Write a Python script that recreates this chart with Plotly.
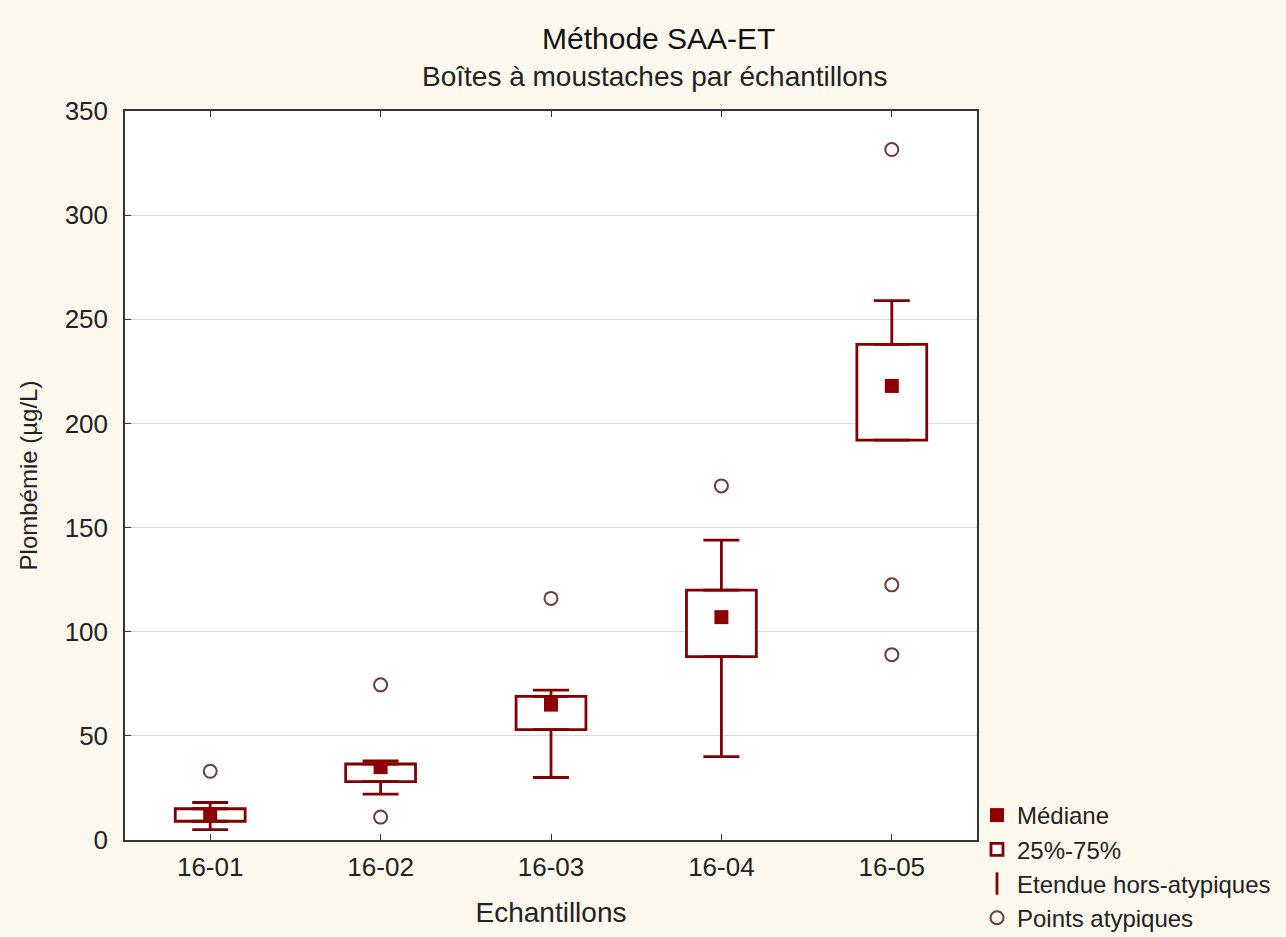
import plotly.graph_objects as go

# ---- data ----
categories = ["16-01", "16-02", "16-03", "16-04", "16-05"]
median = [12, 35, 65, 107, 218]
q1 = [9, 28, 53, 88, 192]
q3 = [15, 36.5, 69, 120, 238]
whisker_low = [5, 22, 30, 40, 192]
whisker_high = [18, 38, 72, 144, 259]

outlier_cat = ["16-01", "16-02", "16-02", "16-03", "16-04", "16-05", "16-05", "16-05"]
outlier_val = [33, 74.5, 11, 116, 170, 331.5, 122.5, 89]

y_ticks = [0, 50, 100, 150, 200, 250, 300, 350]

# ---- styles ----
DARK_RED = "#800000"
MED_RED = "#8B0000"
OUT_COL = "#6e3a3a"
BG = "#FDF8EE"
FONT = "Liberation Sans, Arial, sans-serif"

fig = go.Figure()

# boxes (25%-75%)
fig.add_trace(go.Bar(
    x=categories,
    y=[b - a for a, b in zip(q1, q3)],
    base=q1,
    width=0.41,
    marker=dict(color="white", line=dict(color=DARK_RED, width=2.8)),
    name="25%-75%",
    legendrank=2,
    legendgroup="b",
    hoverinfo="skip",
))

# upper whiskers
fig.add_trace(go.Scatter(
    x=categories, y=q3, mode="markers",
    marker=dict(opacity=0, size=1, color=DARK_RED),
    error_y=dict(type="data", symmetric=False,
                 array=[h - t for h, t in zip(whisker_high, q3)],
                 arrayminus=[0] * len(q3),
                 color=DARK_RED, thickness=2.8, width=18),
    showlegend=False, hoverinfo="skip",
))
# lower whiskers
fig.add_trace(go.Scatter(
    x=categories, y=q1, mode="markers",
    marker=dict(opacity=0, size=1, color=DARK_RED),
    error_y=dict(type="data", symmetric=False,
                 array=[0] * len(q1),
                 arrayminus=[b - l for b, l in zip(q1, whisker_low)],
                 color=DARK_RED, thickness=2.8, width=18),
    showlegend=False, hoverinfo="skip",
))

# medians
fig.add_trace(go.Scatter(
    x=categories, y=median, mode="markers",
    marker=dict(symbol="square", size=14, color=MED_RED),
    name="Médiane", legendrank=1, legendgroup="a",
))

# legend entry for whiskers
fig.add_trace(go.Scatter(
    x=[None], y=[None], mode="markers",
    marker=dict(symbol="line-ns", size=20, color=DARK_RED,
                line=dict(color=DARK_RED, width=2.8)),
    name="Etendue hors-atypiques", legendrank=3, legendgroup="c",
))

# outliers
fig.add_trace(go.Scatter(
    x=outlier_cat, y=outlier_val, mode="markers",
    marker=dict(symbol="circle-open", size=13, color=OUT_COL,
                line=dict(width=2, color=OUT_COL)),
    name="Points atypiques", legendrank=4, legendgroup="d",
))

fig.update_layout(
    width=1286, height=937,
    margin=dict(l=125, r=309, t=111, b=97, autoexpand=False),
    paper_bgcolor=BG, plot_bgcolor="white",
    font=dict(family=FONT, size=26, color="#222222"),
    showlegend=True,
    barmode="overlay",
    legend=dict(
        xref="container", yref="container",
        x=977 / 1286, xanchor="left", y=1 - 793 / 937, yanchor="top",
        bgcolor="rgba(0,0,0,0)", font=dict(size=24, color="#222222"),
        traceorder="grouped", tracegroupgap=0,
        itemwidth=30,
    ),
    annotations=[
        dict(text="Méthode SAA-ET", xref="paper", yref="paper",
             x=0.626, y=(840 - 38) / 729, xanchor="center", yanchor="middle",
             showarrow=False, font=dict(size=30, color="#111111")),
        dict(text="Boîtes à moustaches par échantillons", xref="paper", yref="paper",
             x=0.622, y=(840 - 77) / 729, xanchor="center", yanchor="middle",
             showarrow=False, font=dict(size=28, color="#222222")),
    ],
)

fig.update_xaxes(
    type="category", categoryorder="array", categoryarray=categories,
    range=[-0.5, 4.5], automargin=False,
    showline=True, linecolor="#333333", linewidth=1.5, mirror="ticks",
    ticks="inside", ticklen=6, tickcolor="#333333",
    showgrid=False, zeroline=False,
    ticklabelstandoff=3,
    title=dict(text="Echantillons", font=dict(size=28), standoff=21),
)
fig.update_yaxes(
    range=[0, 350], tickvals=y_ticks, automargin=False,
    showline=True, linecolor="#333333", linewidth=1.5, mirror=True,
    ticks="inside", ticklen=6, tickcolor="#333333",
    showgrid=True, gridcolor="#d9d9d9", gridwidth=1, zeroline=False,
    ticklabelstandoff=10,
    title=dict(text="Plombémie (µg/L)", font=dict(size=24), standoff=20),
)

fig.write_html(
    "out.html",
    config={"displayModeBar": False},
    post_script="document.body.style.margin='0';document.body.style.background='#FDF8EE';",
)
